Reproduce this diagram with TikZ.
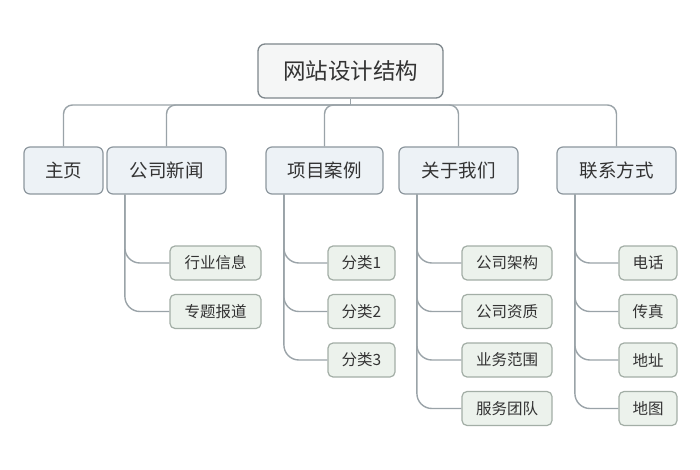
\documentclass[tikz,border=0pt]{standalone}
\usepackage{fontspec}
\setmainfont{Noto Sans CJK SC}
\definecolor{linec}{HTML}{9AA3A8}
\definecolor{rootfill}{HTML}{F5F6F6}
\definecolor{rootdraw}{HTML}{7E878C}
\definecolor{l1fill}{HTML}{EDF2F6}
\definecolor{l1draw}{HTML}{8D979E}
\definecolor{l2fill}{HTML}{ECF2EC}
\definecolor{l2draw}{HTML}{A3AEA6}
\definecolor{txt}{HTML}{333333}
\begin{document}
\begin{tikzpicture}[x=1pt,y=-1pt,
  rootbox/.style={draw=rootdraw,fill=rootfill,line width=1.3pt,rounded corners=7pt,minimum width=185pt,minimum height=54pt,inner sep=0pt,text=txt,font=\fontsize{22.5}{26}\selectfont},
  topic/.style={draw=l1draw,fill=l1fill,line width=1.2pt,rounded corners=6pt,minimum height=47pt,inner sep=0pt,text=txt,font=\fontsize{18.5}{22}\selectfont},
  leaf/.style={draw=l2draw,fill=l2fill,line width=1.2pt,rounded corners=5pt,minimum height=34pt,inner sep=0pt,text=txt,font=\fontsize{15.5}{18}\selectfont},
  conn/.style={draw=linec,line width=1.4pt},
  busline/.style={conn,rounded corners=9pt},
  twig/.style={conn,rounded corners=15pt}]
\useasboundingbox (0,0) rectangle (700,470);
\fill[white] (0,0) rectangle (700,470);
\coordinate (bus) at (0,105);
% root
\node[rootbox] (root) at (350.5,71) {网站设计结构};
% level 1
\node[topic,minimum width=79pt]  (h1) at (63.5,170.5)  {主页};
\node[topic,minimum width=119pt] (h2) at (166.5,170.5) {公司新闻};
\node[topic,minimum width=117pt] (h3) at (324.5,170.5) {项目案例};
\node[topic,minimum width=119pt] (h4) at (458.5,170.5) {关于我们};
\node[topic,minimum width=119pt] (h5) at (616.5,170.5) {联系方式};
% leaves
\node[leaf,minimum width=91pt] (a1) at (215.5,263)   {行业信息};
\node[leaf,minimum width=91pt] (a2) at (215.5,311.5) {专题报道};
\node[leaf,minimum width=67pt] (b1) at (361.5,263)   {分类1};
\node[leaf,minimum width=67pt] (b2) at (361.5,311.5) {分类2};
\node[leaf,minimum width=67pt] (b3) at (361.5,360)   {分类3};
\node[leaf,minimum width=90pt] (c1) at (507,263)     {公司架构};
\node[leaf,minimum width=90pt] (c2) at (507,311.5)   {公司资质};
\node[leaf,minimum width=90pt] (c3) at (507,360)     {业务范围};
\node[leaf,minimum width=90pt] (c4) at (507,408.5)   {服务团队};
\node[leaf,minimum width=58pt] (d1) at (648,263)     {电话};
\node[leaf,minimum width=58pt] (d2) at (648,311.5)   {传真};
\node[leaf,minimum width=58pt] (d3) at (648,360)     {地址};
\node[leaf,minimum width=58pt] (d4) at (648,408.5)   {地图};
% root to bus
\coordinate (hub) at (root.south |- bus);
\draw[conn] (root.south) -- (hub);
\foreach \h in {h1,h2,h3,h4,h5}
  \draw[busline] (hub) -| (\h.north);
% level 1 to leaves
\foreach \p/\c in {h2/a1,h2/a2,h3/b1,h3/b2,h3/b3,h4/c1,h4/c2,h4/c3,h4/c4,h5/d1,h5/d2,h5/d3,h5/d4}
  \draw[twig] ([xshift=18.5pt]\p.south west) |- (\c.west);
\end{tikzpicture}
\end{document}
